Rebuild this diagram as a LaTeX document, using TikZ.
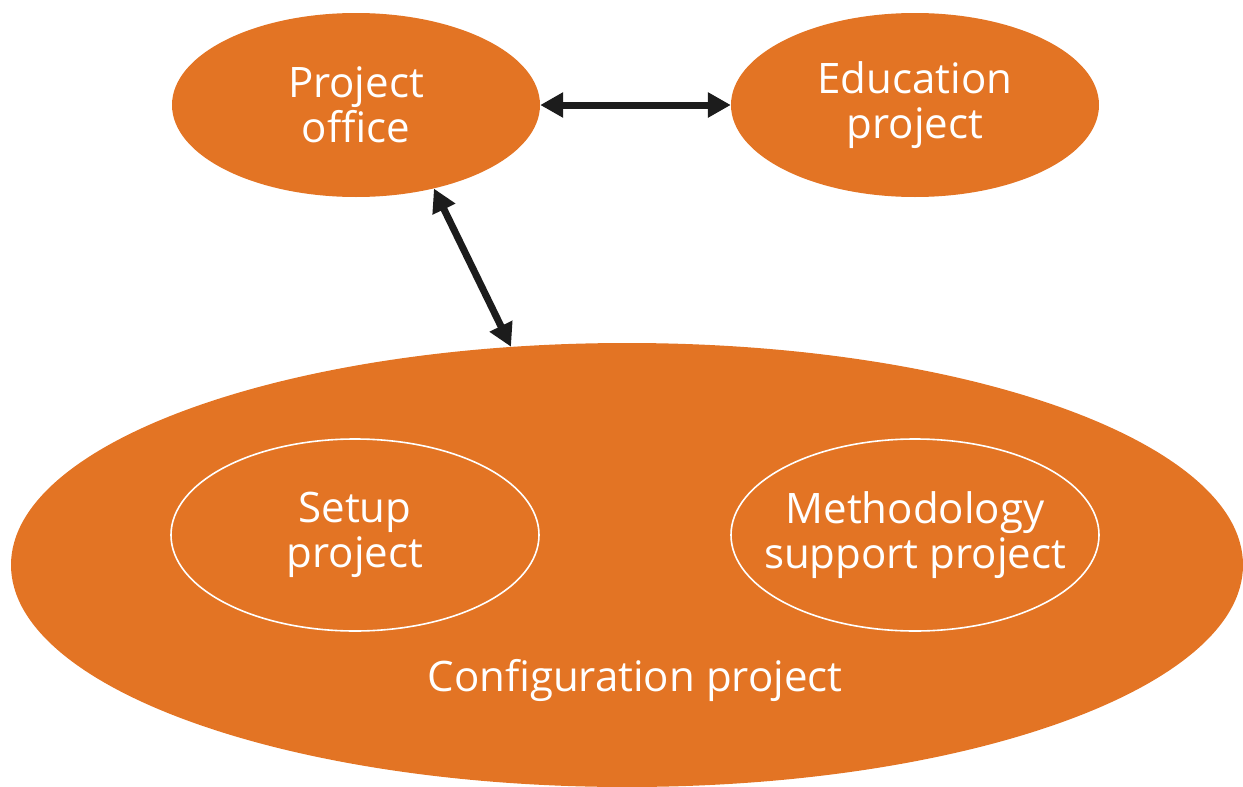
\documentclass[tikz,border=0pt]{standalone}
\usepackage{fontspec}
\setmainfont{Open Sans}
\usetikzlibrary{shapes.geometric,arrows.meta}
\definecolor{projorange}{HTML}{E37424}
\definecolor{arrowblack}{HTML}{1C1C1C}
\begin{document}
\begin{tikzpicture}[x=1pt,y=-1pt,
        proj/.style={ellipse,fill=projorange,inner ysep=0,inner xsep=-30pt,minimum width=368pt,minimum height=184pt,
            text=white,align=center,font=\fontsize{42}{45}\selectfont},
        subproj/.style={proj,fill=none,draw=white,line width=1.6pt,minimum height=192pt},
        link/.style={line width=7pt,arrowblack,{Triangle[length=23pt,width=24pt]}-{Triangle[length=23pt,width=24pt]}}]
        \clip (0,0) rectangle (1243,787);

        \node[proj] (office) at (356,105) {Project\\office};
        \node[proj] (edu) at (915,105) {Education\\project};

        \node[proj,minimum width=1232pt,minimum height=444pt] (config) at (627,565) {};
        \node[text=white,font=\fontsize{42}{45}\selectfont] (configlabel) at (635,680) {Configuration project};

        \node[subproj] (setup) at (355,535) {Setup\\project};
        \node[subproj] (method) at (915,535) {Methodology\\support project};

        \draw[link] (office.east) -- (edu.west);
        \draw[link] (office.-47) -- (config.118);
    \end{tikzpicture}
\end{document}
